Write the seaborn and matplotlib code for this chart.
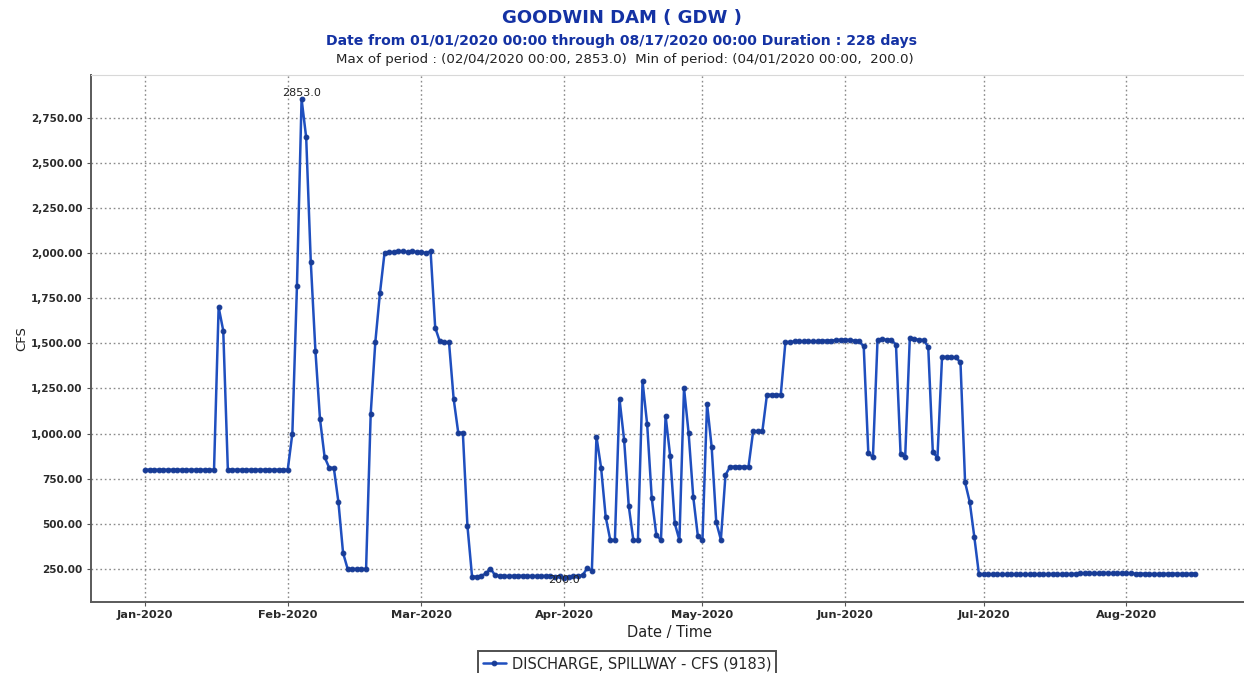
"""
Goodwin Dam spillway discharge, daily CFS, Jan 1 - Aug 17 2020
"""
import numpy as np
import pandas as pd
import matplotlib
matplotlib.use('Agg')
import matplotlib.pyplot as plt
import matplotlib.dates as mdates
from matplotlib.ticker import FuncFormatter
import seaborn as sns

# daily discharge values, one list per month
jan_cfs = [800, 800, 800, 800, 800, 800, 800, 800, 800, 800,
           800, 800, 800, 800, 800, 800, 1700, 1570, 800, 800,
           800, 800, 800, 800, 800, 800, 800, 800, 800, 800, 800]
feb_cfs = [800, 1000, 1820, 2853, 2640, 1950, 1460, 1080, 870, 810,
           810, 620, 340, 250, 250, 250, 250, 250, 1108, 1505,
           1776, 2000, 2005, 2005, 2010, 2010, 2005, 2010, 2005]
mar_cfs = [2005, 2000, 2010, 1587, 1510, 1505, 1505, 1193, 1005, 1005,
           487, 208, 208, 212, 225, 252, 215, 212, 212, 210,
           212, 212, 212, 210, 212, 210, 210, 212, 210, 208, 210]
apr_cfs = [200, 208, 210, 212, 215, 255, 240, 983, 811, 539,
           410, 410, 1191, 965, 600, 410, 410, 1289, 1052, 641,
           437, 410, 1098, 876, 502, 410, 1252, 1002, 650, 433]
may_cfs = [410, 1165, 925, 508, 412, 770, 817, 817, 817, 817,
           817, 1012, 1012, 1012, 1215, 1215, 1215, 1215, 1505, 1508,
           1510, 1510, 1512, 1512, 1510, 1512, 1515, 1515, 1515, 1518, 1520]
jun_cfs = [1520, 1518, 1515, 1512, 1483, 891, 870, 1520, 1522, 1520,
           1518, 1493, 887, 872, 1528, 1522, 1520, 1518, 1480, 897,
           867, 1424, 1425, 1424, 1422, 1394, 730, 622, 428, 222]
jul_cfs = [220, 220, 220, 220, 220, 220, 220, 220, 220, 220,
           220, 220, 220, 220, 222, 222, 220, 220, 222, 222,
           224, 226, 226, 228, 226, 226, 228, 228, 226, 226, 228]
aug_cfs = [226, 226, 224, 224, 224, 222, 222, 222, 222, 224,
           224, 224, 222, 222, 224, 224]

start_date = '2020-01-01'
series_label = 'DISCHARGE, SPILLWAY - CFS (9183)'
title_text = 'GOODWIN DAM ( GDW )'
subtitle_text = 'Date from 01/01/2020 00:00 through 08/17/2020 00:00 Duration : 228 days'
extremes_text = 'Max of period : (02/04/2020 00:00, 2853.0)  Min of period: (04/01/2020 00:00,  200.0)'
y_ticks = [250, 500, 750, 1000, 1250, 1500, 1750, 2000, 2250, 2500, 2750]

LINE_BLUE = '#1f4fbf'
TITLE_BLUE = '#1432a4'


def build_frame():
    """把各月数据拼成一个DataFrame"""
    cfs = jan_cfs + feb_cfs + mar_cfs + apr_cfs + may_cfs + jun_cfs + jul_cfs + aug_cfs
    dates = pd.date_range(start_date, periods=len(cfs), freq='D')
    return pd.DataFrame({'date': dates, 'cfs': cfs})


def draw(df, save_path='out.png'):
    sns.set_theme(style='white')
    plt.rcParams['font.family'] = ['DejaVu Sans']

    fig = plt.figure(figsize=(12.44, 6.73), dpi=100)
    W, H = 1244, 673
    # axes box measured in pixels of the reference
    ax = fig.add_axes([91 / W, 1 - 602 / H, (1248 - 91) / W, (602 - 75) / H])

    sns.lineplot(data=df, x='date', y='cfs', ax=ax, color=LINE_BLUE,
                 linewidth=1.8, marker='o', markersize=3.4,
                 markeredgecolor='#183c96', markerfacecolor='#183c96',
                 label=series_label, legend=False)

    # axis ranges: 5% padding like the source tool
    t0 = pd.Timestamp(start_date)
    ax.set_xlim(t0 - pd.Timedelta(days=11.7), t0 + pd.Timedelta(days=239.4))
    ax.set_ylim(67, 2986)

    ax.set_yticks(y_ticks)
    ax.yaxis.set_major_formatter(FuncFormatter(lambda v, p: f'{v:,.2f}'))
    ax.xaxis.set_major_locator(mdates.MonthLocator())
    ax.xaxis.set_major_formatter(mdates.DateFormatter('%b-%Y'))

    for lbl in ax.get_yticklabels():
        lbl.set_fontweight('bold')
        lbl.set_fontsize(7.5)
        lbl.set_color('#2a2a2a')
    for lbl in ax.get_xticklabels():
        lbl.set_fontweight('bold')
        lbl.set_fontsize(8.2)
        lbl.set_color('#2a2a2a')
    ax.tick_params(axis='both', length=3, width=0.8, pad=3, color='#555555')
    ax.tick_params(axis='both', which='both', left=True, bottom=True)

    ax.grid(True, which='major', axis='both', linestyle=(0, (1.2, 2.0)),
            color='#8a8a8a', linewidth=1.0)

    for side in ['left', 'bottom']:
        ax.spines[side].set_color('#5a5a5a')
        ax.spines[side].set_linewidth(1.4)
    ax.spines['top'].set_color('#d8d8d8')
    ax.spines['top'].set_linewidth(0.8)
    ax.spines['right'].set_visible(False)

    ax.set_xlabel('Date / Time', fontsize=10.5, color='#222222', labelpad=3)
    ax.set_ylabel('CFS', fontsize=9.5, color='#222222', labelpad=2)

    # max / min annotations
    i_max = df['cfs'].idxmax()
    i_min = df['cfs'].idxmin()
    ax.annotate(f"{df['cfs'][i_max]:.1f}", (df['date'][i_max], df['cfs'][i_max]),
                xytext=(0, 1), textcoords='offset points', ha='center', va='bottom',
                fontsize=8, color='#222222')
    ax.annotate(f"{df['cfs'][i_min]:.1f}", (df['date'][i_min], df['cfs'][i_min]),
                xytext=(0, 2), textcoords='offset points', ha='center', va='top',
                fontsize=8, color='#222222')

    # titles
    fig.text(622 / W, 1 - 18 / H, title_text, ha='center', va='center',
             fontsize=13, fontweight='bold', color=TITLE_BLUE)
    fig.text(622 / W, 1 - 41 / H, subtitle_text, ha='center', va='center',
             fontsize=10.1, fontweight='bold', color=TITLE_BLUE)
    fig.text(625 / W, 1 - 59 / H, extremes_text, ha='center', va='center',
             fontsize=9.6, color='#222222')

    # legend below the plot, cut by the bottom edge like the scan
    handles, labels = ax.get_legend_handles_labels()
    leg = fig.legend(handles, labels, loc='upper center',
                     bbox_to_anchor=(627 / W, 1 - 651 / H), fontsize=10.5,
                     frameon=True, fancybox=False, borderpad=0.35,
                     handlelength=1.6, handletextpad=0.4, borderaxespad=0)
    leg.get_frame().set_edgecolor('#222222')
    leg.get_frame().set_linewidth(1.4)

    fig.savefig(save_path, dpi=100, facecolor='white')


if __name__ == '__main__':
    draw(build_frame())
